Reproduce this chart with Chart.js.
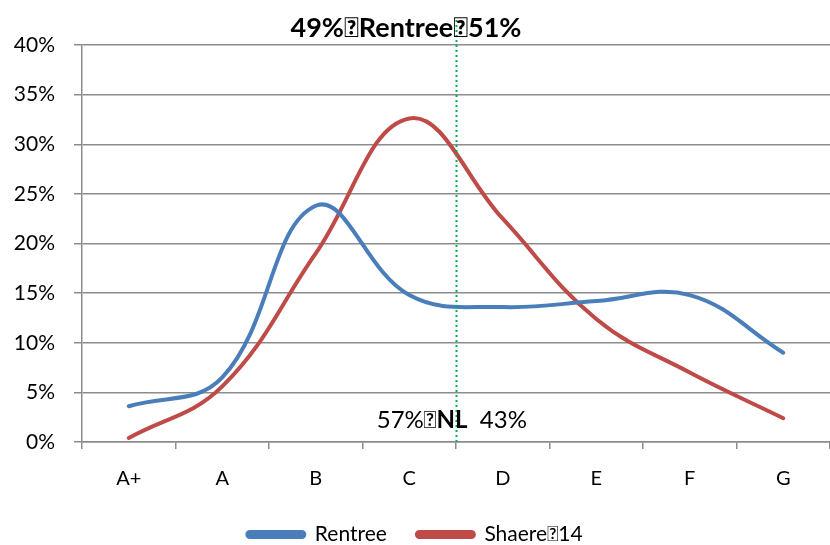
<!DOCTYPE html>
<html>
<head>
<meta charset="utf-8">
<script src="https://cdn.jsdelivr.net/npm/chart.js@4"></script>
<style>
html,body{margin:0;padding:0;background:#fff;}
#wrap{width:830px;height:545px;}
</style>
</head>
<body>
<div id="wrap"><canvas id="c" width="830" height="545"></canvas></div>
<script>
const categories = ["A+","A","B","C","D","E","F","G"];
const rentree = [3.6, 6.5, 23.8, 14.8, 13.6, 14.2, 14.8, 9.0];
const shaere14 = [0.4, 5.6, 19.0, 32.6, 22.5, 12.4, 7.0, 2.4];
const yTicks = [0,5,10,15,20,25,30,35,40];
const seriesNames = ["Rentree", "Shaere\uE00014"];
const titleText = ["49%\uE000Rentree\uE00051%"];
const splitLabel = ["57%\uE000", "NL", "  43%"];
const splitPosition = 3.5;

const FONT = "Lato, 'Open Sans', sans-serif";

const overlay = {
  id: 'overlay',
  afterDatasetsDraw(chart) {
    const ctx = chart.ctx;
    const xs = chart.scales.x, ys = chart.scales.y;
    const x = Math.round(xs.getPixelForValue(splitPosition)) + 0.5;
    ctx.save();
    ctx.strokeStyle = '#00b050';
    ctx.lineWidth = 2;
    ctx.setLineDash([2, 3]);
    ctx.beginPath();
    ctx.moveTo(x, 20);
    ctx.lineTo(x, ys.getPixelForValue(0));
    ctx.stroke();
    ctx.setLineDash([]);
    ctx.fillStyle = '#000';
    ctx.textBaseline = 'alphabetic';
    const by = ys.getPixelForValue(0) - 14;
    const f = "24px " + FONT, fb = "bold 24px " + FONT;
    ctx.font = f;
    const w0 = ctx.measureText(splitLabel[0]).width;
    ctx.font = fb;
    const w1 = ctx.measureText(splitLabel[1]).width;
    let sx = x + 11 - w0 - w1;
    ctx.textAlign = 'left';
    ctx.font = f;
    ctx.fillText(splitLabel[0], sx, by);
    ctx.font = fb;
    ctx.fillText(splitLabel[1], sx + w0, by);
    ctx.font = f;
    ctx.fillText(splitLabel[2], sx + w0 + w1, by);
    ctx.restore();
  },
  afterDraw(chart) {
    const ctx = chart.ctx;
    ctx.save();
    ctx.font = "bold 27px " + FONT;
    ctx.fillStyle = '#000';
    ctx.textAlign = 'center';
    ctx.textBaseline = 'middle';
    ctx.fillText(titleText[0], 406, 28);
    ctx.restore();
  }
};

new Chart(document.getElementById('c'), {
  type: 'line',
  data: {
    labels: categories,
    datasets: [
      { label: seriesNames[0], data: rentree, borderColor: '#4a7ebb', backgroundColor: '#4a7ebb',
        borderWidth: 4, tension: 0.4, pointRadius: 0, borderCapStyle: 'round' },
      { label: seriesNames[1], data: shaere14, borderColor: '#be4b48', backgroundColor: '#be4b48',
        borderWidth: 4, tension: 0.4, pointRadius: 0, borderCapStyle: 'round' }
    ]
  },
  options: {
    responsive: false,
    animation: false,
    layout: { padding: { top: 45, right: 0, left: 0, bottom: -10 } },
    plugins: {
      title: { display: false },
      tooltip: { enabled: false },
      legend: {
        position: 'bottom',
        labels: {
          font: { family: FONT, size: 21 },
          color: '#000',
          boxWidth: 57,
          boxHeight: 5,
          padding: 30,
          useBorderRadius: true,
          borderRadius: 2.5
        }
      }
    },
    scales: {
      x: {
        offset: true,
        afterFit(scale) { scale.height = 52; },
        grid: { display: true, offset: true, drawOnChartArea: false, drawTicks: true, tickLength: 7, color: '#8c8c8c', lineWidth: 1.5 },
        border: { display: true, color: '#8c8c8c', width: 1.5 },
        ticks: { font: { family: FONT, size: 20 }, color: '#000', padding: 18, maxRotation: 0 }
      },
      y: {
        min: 0, max: 40,
        afterBuildTicks(scale) { scale.ticks = yTicks.map(v => ({ value: v })); },
        afterFit(scale) { scale.width = 82; },
        grid: { color: '#8c8c8c', lineWidth: 1.5, tickLength: 8 },
        border: { display: true, color: '#8c8c8c', width: 1.5 },
        ticks: { font: { family: FONT, size: 21 }, color: '#000', padding: 19, callback: v => v + '%' }
      }
    }
  },
  plugins: [overlay]
});
</script>
</body>
</html>
